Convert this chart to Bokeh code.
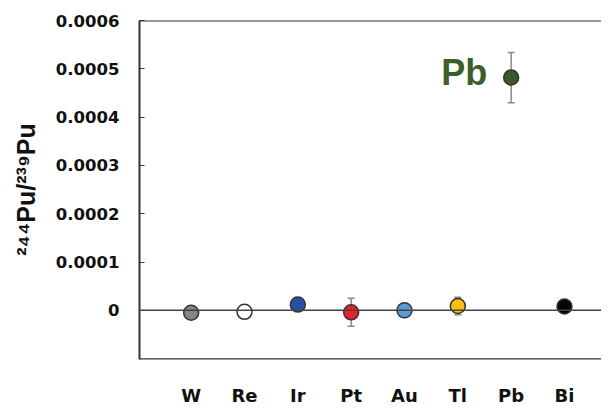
import math
from bokeh.plotting import figure
from bokeh.layouts import row
from bokeh.models import ColumnDataSource, Whisker, Span, FixedTicker, Range1d
from bokeh.core.properties import value
from bokeh.embed import file_html
from bokeh.resources import INLINE

elements = ["W", "Re", "Ir", "Pt", "Au", "Tl", "Pb", "Bi"]
ratios = [-0.000005, -0.000003, 0.000012, -0.000004, 0.0, 0.000009, 0.000482, 0.000008]
errors = [0.0, 0.0, 0.0, 0.000029, 0.0, 0.000018, 0.000052, 0.0]
colors = ["#858585", "#ffffff", "#2b4fa6", "#e8212b", "#5a9bd8", "#fdc010", "#3b5a2b", "#050505"]
y_ticks = [0, 0.0001, 0.0002, 0.0003, 0.0004, 0.0005, 0.0006]
y_tick_labels = ["0", "0.0001", "0.0002", "0.0003", "0.0004", "0.0005", "0.0006"]
y_title = "²⁴⁴Pu/²³⁹Pu"

FL, FT, W, H, FB = 139, 20, 601, 408, 361
LW = 45  # width of the strip holding the rotated y-axis title
X0 = 0.031
X1 = X0 + (W - FL) / 53.33
Y0, Y1 = -0.0001017, 0.0006

xs = list(range(1, len(elements) + 1))
src = ColumnDataSource(dict(
    x=xs, y=ratios, c=colors,
    up=[r + e for r, e in zip(ratios, errors)],
    lo=[r - e for r, e in zip(ratios, errors)],
))

# ---- strip with the y-axis title (page pixel coordinates) ----
t = figure(width=LW, height=H, output_backend="svg", toolbar_location=None,
           x_range=Range1d(0, LW), y_range=Range1d(FB, FT),
           min_border_left=0, min_border_right=0, min_border_top=FT, min_border_bottom=H - FB,
           x_axis_type=None, y_axis_type=None)
t.outline_line_color = None
t.grid.visible = False
t.text(x=[25], y=[190], text=[y_title], angle=math.pi / 2, text_font=value("Liberation Sans"),
       text_font_style="bold", text_font_size="25px", text_color="#111111",
       text_align="center", text_baseline="alphabetic")

# ---- main plot ----
p = figure(width=W - LW, height=H, output_backend="svg", toolbar_location=None,
           x_range=(X0, X1), y_range=(Y0, Y1),
           min_border_left=FL - LW, min_border_top=FT, min_border_bottom=H - FB, min_border_right=0)
p.outline_line_color = None
p.grid.visible = False
p.background_fill_color = "white"

ya = p.yaxis[0]
ya.ticker = FixedTicker(ticks=y_ticks)
ya.major_label_overrides = {tk: l for tk, l in zip(y_ticks, y_tick_labels)}
ya.major_label_text_font = "DejaVu Sans"
ya.major_label_text_font_style = "bold"
ya.major_label_text_font_size = "16.5px"
ya.major_label_text_color = "#111111"
ya.major_label_standoff = 20
ya.major_tick_in = 5
ya.major_tick_out = 0
ya.minor_tick_line_alpha = 0
ya.major_tick_line_color = "#333333"
ya.axis_line_color = "#333333"
ya.axis_line_width = 2

xa = p.xaxis[0]
xa.ticker = FixedTicker(ticks=xs)
xa.major_label_overrides = {x: e for x, e in zip(xs, elements)}
xa.major_label_text_font = "DejaVu Sans"
xa.major_label_text_font_style = "bold"
xa.major_label_text_font_size = "18px"
xa.major_label_text_color = "#111111"
xa.major_label_standoff = 19
xa.axis_line_alpha = 0
xa.major_tick_line_alpha = 0
xa.minor_tick_line_alpha = 0

p.add_layout(Span(location=Y1, dimension="width", line_color="#333333", line_width=2))
p.add_layout(Span(location=Y0, dimension="width", line_color="#333333", line_width=2.5))
p.add_layout(Span(location=0, dimension="width", line_color="#444444", line_width=1.5))

w = Whisker(source=src, base="x", upper="up", lower="lo", line_color="#8a8a8a", line_width=1.5)
for head in (w.upper_head, w.lower_head):
    head.size = 7
    head.line_color = "#8a8a8a"
    head.line_width = 1.5
p.add_layout(w)

p.scatter("x", "y", source=src, size=15, fill_color="c", line_color="#333333", line_width=1.5)

pb = elements.index("Pb")
p.text(x=[xs[pb]], y=[ratios[pb]], text=["Pb"], text_font=value("Liberation Sans"),
       text_font_style="bold", text_font_size="36px", text_color="#3d5e2b",
       text_align="right", text_baseline="alphabetic", x_offset=-24, y_offset=-5)

layout = row(t, p, spacing=0)
open("out.html", "w").write(file_html(layout, INLINE))
